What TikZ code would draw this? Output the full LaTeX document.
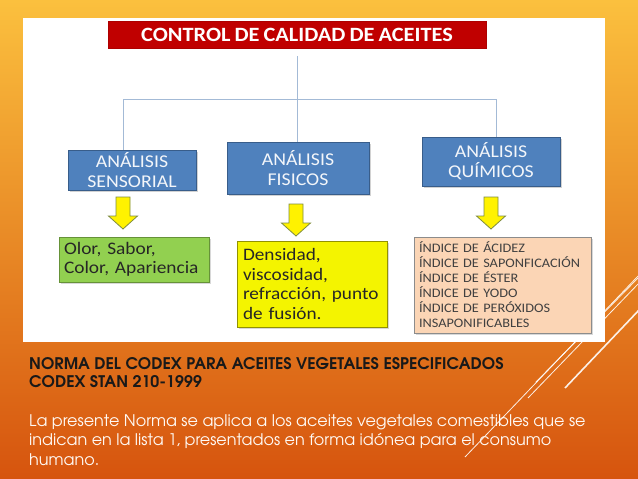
\documentclass[tikz,border=0pt]{standalone}
\usepackage{fontspec}
\setmainfont{Carlito}[FakeStretch=1.1, WordSpace=0.8]
\newfontfamily\gothic{TeX Gyre Adventor}
\usetikzlibrary{positioning, shadows}

\definecolor{bgtop}{HTML}{FBC03E}
\definecolor{bgmid}{HTML}{F0902C}
\definecolor{bgbot}{HTML}{D6540E}
\definecolor{titlered}{HTML}{C00000}
\definecolor{boxblue}{HTML}{4F81BD}
\definecolor{boxedge}{HTML}{385D8A}
\definecolor{linkblue}{HTML}{A3BAD6}
\definecolor{sensgreen}{HTML}{92D050}
\definecolor{fisyellow}{HTML}{F4F400}
\definecolor{quimpeach}{HTML}{FBD5B5}
\definecolor{arrowedge}{HTML}{7F8C3F}

\tikzset{
    yellowarrow/.pic={
        \draw[draw=arrowedge, fill=yellow, line width=0.8pt, line join=miter]
            (-7,0) -- (7,0) -- (7,19) -- (14.5,19) -- (0,32) -- (-14.5,19) -- (-7,19) -- cycle;
    }
}

\begin{document}
\begin{tikzpicture}[x=1pt, y=-1pt,
    header/.style={draw=titlered!90!black, fill=titlered, text=white, minimum width=378pt, minimum height=27pt, inner sep=0pt, font=\bfseries\fontsize{20.3}{22}\selectfont},
    analysis/.style={draw=boxedge, fill=boxblue, line width=1pt, text=white!93!boxblue, align=center, inner sep=0pt, font=\fontsize{18}{20}\selectfont, drop shadow={shadow xshift=1.5pt, shadow yshift=-1.5pt, opacity=0.35}},
    result/.style={line width=0.9pt, align=left, inner ysep=0pt, drop shadow={shadow xshift=1.5pt, shadow yshift=-1.5pt, opacity=0.3}},
    link/.style={draw=linkblue, line width=0.9pt},
    deco/.style={draw=white, line width=0.8pt, opacity=0.9}
]
    \useasboundingbox (0,0) rectangle (638,479);
    \shade[top color=bgtop, middle color=bgmid, bottom color=bgbot] (0,0) rectangle (638,479);

    % slanted lines, bottom right
    \begin{scope}
        \clip (0,0) rectangle (638,479);
        \draw[deco, line width=1.6pt] (565,388) -- (640,309);
        \draw[deco] (536,382) -- (640,276);
        \draw[deco] (528,398) -- (640,282);
        \draw[deco] (465,457) -- (640,274);
    \end{scope}

    % white panel
    \fill[white] (23,18) rectangle (605,342);

    % Title
    \node[header] (title) at (297,34.5) {CONTROL DE CALIDAD DE ACEITES};

    % Analysis boxes
    \node[analysis, minimum width=128pt, minimum height=40pt] (sens) at (132,170) {ANÁLISIS\\SENSORIAL};
    \node[analysis, minimum width=142pt, minimum height=52pt] (fis) at (298,168) {ANÁLISIS\\FISICOS};
    \node[analysis, minimum width=138pt, minimum height=49pt] (quim) at (491,161.5) {ANÁLISIS\\QUÍMICOS};

    % Connectors
    \coordinate (jl) at (123,99);
    \coordinate (jr) at (496,99);
    \draw[link, shorten <=8pt] (title.south) -- (title.south |- fis.north);
    \draw[link] (sens.north -| jl) -- (jl) -- (jr) -- (quim.north -| jr);

    % Yellow arrows
    \pic (a1) at (123,197) {yellowarrow};
    \pic (a2) at (296,204) {yellowarrow};
    \pic (a3) at (491,197) {yellowarrow};

    % Results
    \node[result, draw=sensgreen!70!black, fill=sensgreen, text=black!85, inner xsep=5pt, text width=140pt, minimum height=45pt, font=\fontsize{17.6}{18.5}\selectfont] (sensres) at (134,259.5) {Olor, Sabor,\\Color, Apariencia};
    \node[result, draw=fisyellow!60!black, fill=fisyellow, text=black!85, inner xsep=6pt, text width=138pt, minimum height=86pt, font=\fontsize{17.5}{19.5}\selectfont] (fisres) at (312,284) {Densidad,\\viscosidad,\\refracción, punto\\de fusión.};
    \node[result, draw=black!45, fill=quimpeach, text=black!75, inner xsep=5pt, text width=167pt, minimum height=96pt, font=\fontsize{13}{15}\selectfont] (quimres) at (502.5,285) {ÍNDICE DE ÁCIDEZ\\ÍNDICE DE SAPONFICACIÓN\\ÍNDICE DE ÉSTER\\ÍNDICE DE YODO\\ÍNDICE DE PERÓXIDOS\\INSAPONIFICABLES};

    % Codex text
    \node[anchor=north west, inner sep=0pt, align=left, text=black!90, font=\gothic\bfseries\fontsize{16}{18}\selectfont] (norma) at (29,357) {NORMA DEL CODEX PARA ACEITES VEGETALES ESPECIFICADOS\\CODEX STAN 210-1999};
    \node[anchor=north west, inner sep=0pt, align=left, text=white!96!orange, font=\gothic\fontsize{16}{19.5}\selectfont] (alcance) at (29,414) {La presente Norma se aplica a los aceites vegetales comestibles que se\\indican en la lista 1, presentados en forma idónea para el consumo\\humano.};
\end{tikzpicture}
\end{document}
